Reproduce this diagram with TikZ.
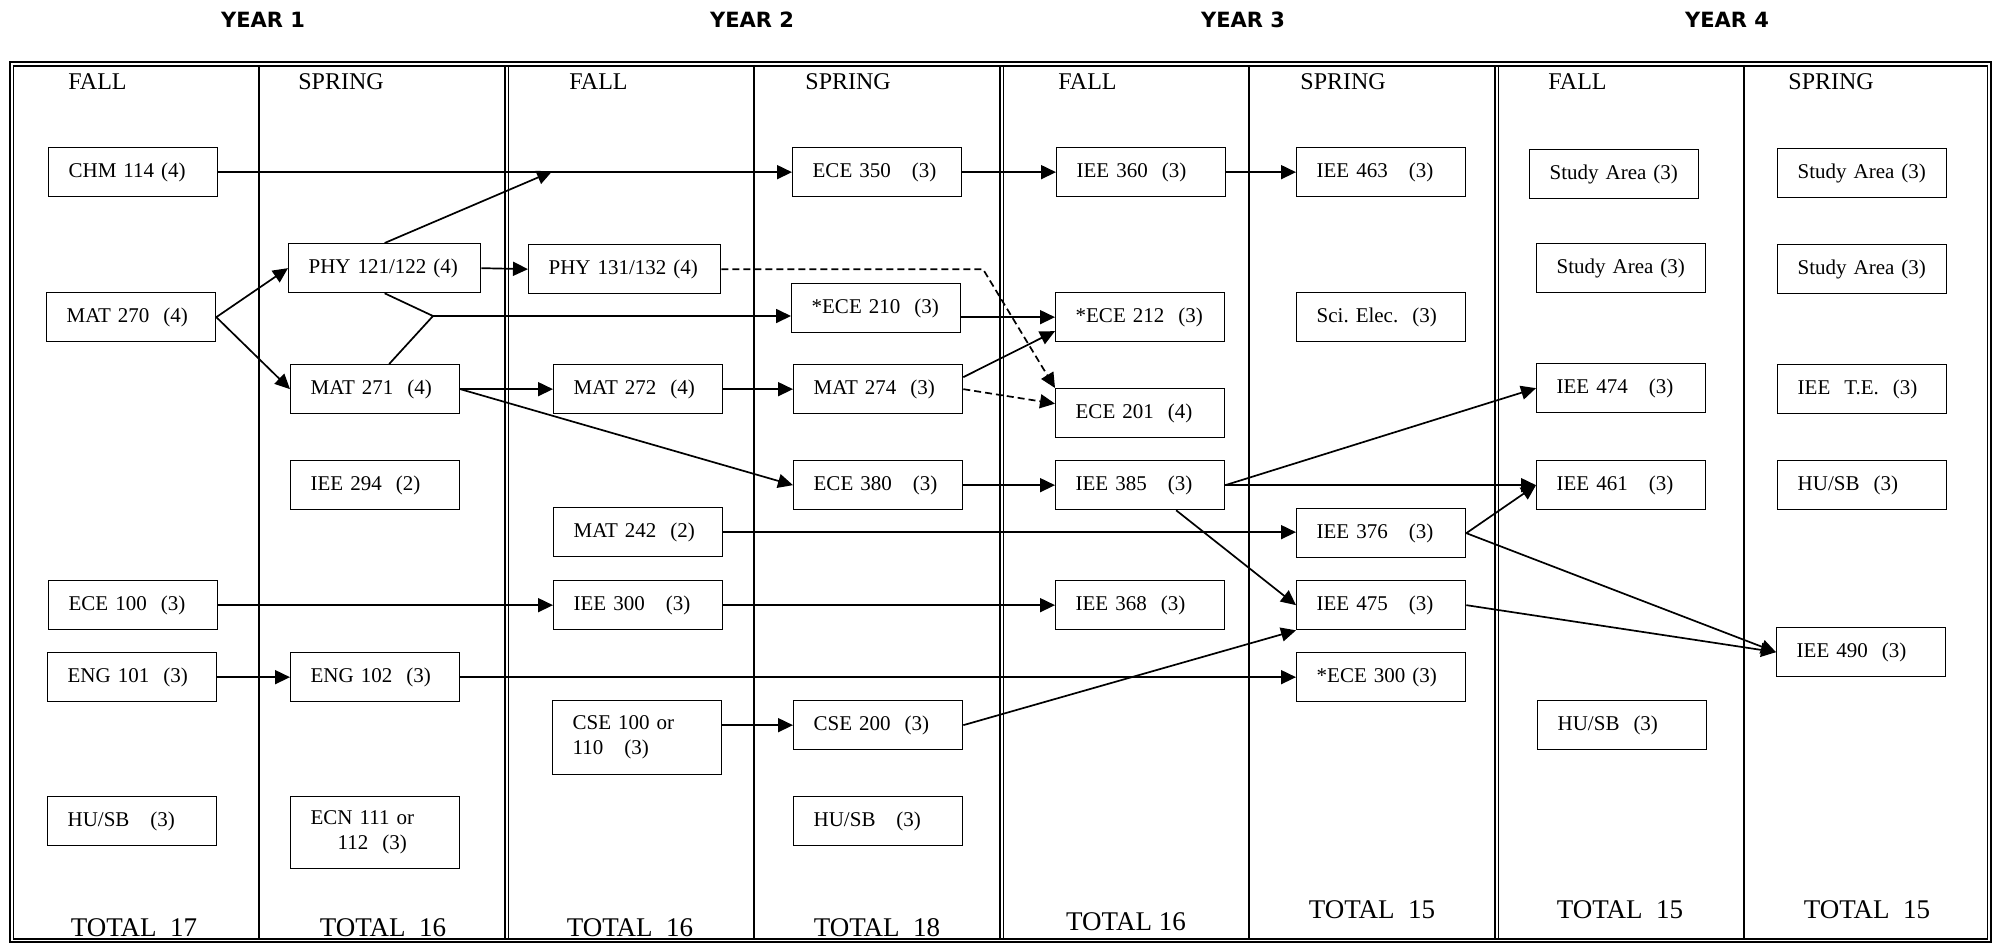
\documentclass[tikz,border=0pt]{standalone}
\usepackage{fontspec}
\setmainfont{Liberation Serif}
\newfontfamily\yearfont{DejaVu Sans}
\usetikzlibrary{arrows.meta, positioning, calc}

\begin{document}
\begin{tikzpicture}[x=0.5pt, y=-0.5pt,
    course/.style={draw, line width=0.65pt, anchor=north west, text width=64.5pt, inner xsep=10pt, inner ysep=0pt, minimum height=24.5pt, align=left, font=\fontsize{10.5}{12.5}\selectfont},
    wide/.style={text width=76pt},
    term/.style={anchor=west, inner sep=0pt, font=\fontsize{12}{14}\selectfont},
    total/.style={inner sep=0pt, font=\fontsize{13.5}{16}\selectfont},
    year/.style={inner sep=0pt, font=\yearfont\bfseries\fontsize{10.5}{12}\selectfont},
    frame/.style={line width=0.65pt},
    arr/.style={-{Triangle[length=7.5pt, width=7pt]}, line width=0.85pt},
    darr/.style={arr, dash pattern=on 3.5pt off 2pt}]
  \useasboundingbox (0,0) rectangle (1995,943);

  \node[year] (y1) at (263,20) {YEAR 1};
  \node[year] (y2) at (752,20) {YEAR 2};
  \node[year] (y3) at (1243,20) {YEAR 3};
  \node[year] (y4) at (1727,20) {YEAR 4};

  \draw[frame] (10,62) rectangle (1991,942);
  \draw[frame] (13.5,66) rectangle (1987.5,939);
  \draw[frame] (259,66) -- (259,939);
  \draw[frame] (505,66) -- (505,939);
  \draw[frame] (508.5,66) -- (508.5,939);
  \draw[frame] (754,66) -- (754,939);
  \draw[frame] (1000,66) -- (1000,939);
  \draw[frame] (1003.5,66) -- (1003.5,939);
  \draw[frame] (1249,66) -- (1249,939);
  \draw[frame] (1495,66) -- (1495,939);
  \draw[frame] (1498.5,66) -- (1498.5,939);
  \draw[frame] (1744,66) -- (1744,939);

  \node[term] (f1) at (68,82) {FALL};
  \node[term] (s1) at (298,82) {SPRING};
  \node[term] (f2) at (569,82) {FALL};
  \node[term] (s2) at (805,82) {SPRING};
  \node[term] (f3) at (1058,82) {FALL};
  \node[term] (s3) at (1300,82) {SPRING};
  \node[term] (f4) at (1548,82) {FALL};
  \node[term] (s4) at (1788,82) {SPRING};

  \node[course] (chm114) at (48,147) {CHM 114 (4)};
  \node[course] (mat270) at (46,292) {MAT 270\ \ (4)};
  \node[course] (ece100) at (48,580) {ECE 100\ \ (3)};
  \node[course] (eng101) at (47,652) {ENG 101\ \ (3)};
  \node[course] (husbA) at (47,796) {HU/SB\ \ \ (3)};

  \node[course, wide] (phy121) at (288,243) {PHY 121/122 (4)};
  \node[course] (mat271) at (290,364) {MAT 271\ \ (4)};
  \node[course] (iee294) at (290,460) {IEE 294\ \ (2)};
  \node[course] (eng102) at (290,652) {ENG 102\ \ (3)};
  \node[course, minimum height=36pt] (ecn111) at (290,796) {ECN 111 or\\\hspace*{13.5pt}112\ \ (3)};

  \node[course, wide] (phy131) at (528,244) {PHY 131/132 (4)};
  \node[course] (mat272) at (553,364) {MAT 272\ \ (4)};
  \node[course] (mat242) at (553,507) {MAT 242\ \ (2)};
  \node[course] (iee300) at (553,580) {IEE 300\ \ \ (3)};
  \node[course, minimum height=37pt] (cse100) at (552,700) {CSE 100 or\\110\ \ \ (3)};

  \node[course] (ece350) at (792,147) {ECE 350\ \ \ (3)};
  \node[course] (ece210) at (791,283) {*ECE 210\ \ (3)};
  \node[course] (mat274) at (793,364) {MAT 274\ \ (3)};
  \node[course] (ece380) at (793,460) {ECE 380\ \ \ (3)};
  \node[course] (cse200) at (793,700) {CSE 200\ \ (3)};
  \node[course] (husbB) at (793,796) {HU/SB\ \ \ (3)};

  \node[course] (iee360) at (1056,147) {IEE 360\ \ (3)};
  \node[course] (ece212) at (1055,292) {*ECE 212\ \ (3)};
  \node[course] (ece201) at (1055,388) {ECE 201\ \ (4)};
  \node[course] (iee385) at (1055,460) {IEE 385\ \ \ (3)};
  \node[course] (iee368) at (1055,580) {IEE 368\ \ (3)};

  \node[course] (iee463) at (1296,147) {IEE 463\ \ \ (3)};
  \node[course] (scielec) at (1296,292) {Sci.\ Elec.\ \ (3)};
  \node[course] (iee376) at (1296,508) {IEE 376\ \ \ (3)};
  \node[course] (iee475) at (1296,580) {IEE 475\ \ \ (3)};
  \node[course] (ece300) at (1296,652) {*ECE 300 (3)};

  \node[course] (studyA) at (1529,149) {Study Area (3)};
  \node[course] (studyB) at (1536,243) {Study Area (3)};
  \node[course] (iee474) at (1536,363) {IEE 474\ \ \ (3)};
  \node[course] (iee461) at (1536,460) {IEE 461\ \ \ (3)};
  \node[course] (husbC) at (1537,700) {HU/SB\ \ (3)};

  \node[course] (studyC) at (1777,148) {Study Area (3)};
  \node[course] (studyD) at (1777,244) {Study Area (3)};
  \node[course] (ieete) at (1777,364) {IEE\ \ T.E.\ \ (3)};
  \node[course] (husbD) at (1777,460) {HU/SB\ \ (3)};
  \node[course] (iee490) at (1776,627) {IEE 490\ \ (3)};

  \node[total] (t1) at (134,928) {TOTAL\ \ 17};
  \node[total] (t2) at (383,928) {TOTAL\ \ 16};
  \node[total] (t3) at (630,928) {TOTAL\ \ 16};
  \node[total] (t4) at (877,928) {TOTAL\ \ 18};
  \node[total] (t5) at (1126,922) {TOTAL 16};
  \node[total] (t6) at (1372,910) {TOTAL\ \ 15};
  \node[total] (t7) at (1620,910) {TOTAL\ \ 15};
  \node[total] (t8) at (1867,910) {TOTAL\ \ 15};

  \coordinate (phyjoin) at (552,171.5);
  \coordinate (split) at (433,316);
  \coordinate (bend) at (983,0);

  \draw[arr] (chm114.east) -- (chm114.east -| ece350.west);
  \draw[arr] (phy121.north) -- (phyjoin);
  \draw[arr] (mat270.east) -- (phy121.west);
  \draw[arr] (mat270.east) -- (mat271.west);
  \draw[arr] (phy121.east) -- (phy131.west);
  \draw[line width=0.85pt] (phy121.south) -- (split) -- ([xshift=7pt]mat271.north);
  \draw[arr] (split) -- (split -| ece210.west);
  \draw[darr] (phy131.east) -- (phy131.east -| bend) -- (ece201.north west);
  \draw[arr] (ece210.east |- ece212.west) -- (ece212.west);
  \draw[arr] (mat271.east) -- (mat272.west);
  \draw[arr] (mat271.east) -- (ece380.west);
  \draw[arr] (mat272.east) -- (mat274.west);
  \draw[arr] ([yshift=6pt]mat274.east) -- ([yshift=-7pt]ece212.west);
  \draw[darr] (mat274.east) -- ([yshift=4.75pt]ece201.west);
  \draw[arr] (ece350.east) -- (iee360.west);
  \draw[arr] (iee360.east) -- (iee463.west);
  \draw[arr] (ece380.east) -- (iee385.west);
  \draw[arr] (iee385.east) -- (iee474.west);
  \draw[arr] (iee385.east) -- (iee385.east -| iee461.west);
  \draw[arr] ([xshift=18pt]iee385.south) -- (iee475.west);
  \draw[arr] (mat242.east) -- (mat242.east -| iee376.west);
  \draw[arr] (iee376.east) -- (iee461.west);
  \draw[arr] (iee376.east) -- (iee490.west);
  \draw[arr] (iee475.east) -- (iee490.west);
  \draw[arr] (ece100.east) -- (iee300.west);
  \draw[arr] (iee300.east) -- (iee368.west);
  \draw[arr] (eng101.east) -- (eng102.west);
  \draw[arr] (eng102.east) -- (ece300.west);
  \draw[arr] (cse100.east |- cse200.west) -- (cse200.west);
  \draw[arr] (cse200.east) -- (iee475.south west);
\end{tikzpicture}
\end{document}
